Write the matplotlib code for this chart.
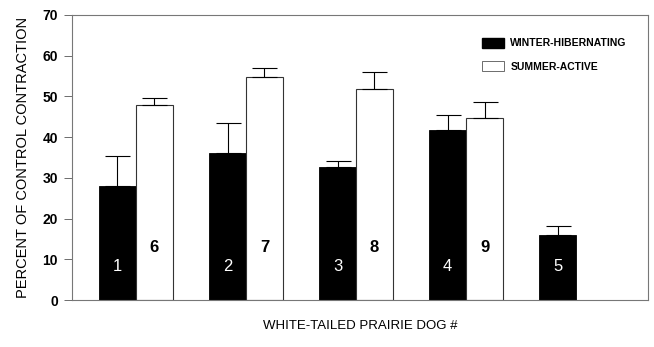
import matplotlib
matplotlib.use("Agg")
import matplotlib.pyplot as plt
from matplotlib.patches import Patch

plt.rcParams['font.family'] = ['Liberation Sans', 'DejaVu Sans']

# Animal groups along the x axis
groups = [1, 2, 3, 4, 5]
winter_ids = ["1", "2", "3", "4", "5"]
summer_ids = ["6", "7", "8", "9"]

# Percent of control contraction (mean) and upper error (SE)
winter_vals = [28.0, 36.0, 32.8, 41.7, 16.1]
winter_err = [7.5, 7.4, 1.4, 3.7, 2.2]
summer_vals = [47.9, 54.8, 51.7, 44.8]
summer_err = [1.6, 2.2, 4.4, 3.8]

yticks = [0, 10, 20, 30, 40, 50, 60, 70]

fig = plt.figure(figsize=(6.54, 3.47), dpi=100)
ax = fig.add_axes([0.110, 0.135, 0.881, 0.822])

width = 0.336
wx = [g - width / 2 for g in groups]
sx = [g + width / 2 for g in groups[:len(summer_vals)]]

ax.bar(wx, winter_vals, width=width, color='black', edgecolor='black', linewidth=0.6,
       yerr=[[0] * len(winter_err), winter_err], capsize=9,
       error_kw=dict(ecolor='black', elinewidth=0.8, capthick=0.8), zorder=2)
ax.bar(sx, summer_vals, width=width, color='white', edgecolor='#333333', linewidth=0.8,
       yerr=[[0] * len(summer_err), summer_err], capsize=9,
       error_kw=dict(ecolor='black', elinewidth=0.8, capthick=0.8), zorder=2)

# Animal numbers written inside the bars
for x, t in zip(wx, winter_ids):
    ax.text(x, 8.3, t, color='white', ha='center', va='center', fontsize=12, zorder=3)
for x, t in zip(sx, summer_ids):
    ax.text(x, 12.8, t, color='black', ha='center', va='center', fontsize=12,
            fontweight='bold', zorder=3)

ax.set_xlim(0.418, 5.655)
ax.set_ylim(0, 70)
ax.set_yticks(yticks)
ax.set_yticklabels([str(v) for v in yticks], fontsize=10, fontweight='bold')
ax.set_xticks([])
ax.tick_params(axis='y', direction='out', length=6, width=0.6, color='#555555', pad=4)
for s in ax.spines.values():
    s.set_color('#777777')
    s.set_linewidth(0.8)

ax.set_ylabel('PERCENT OF CONTROL CONTRACTION', fontsize=10.5, labelpad=9)
ax.set_xlabel('WHITE-TAILED PRAIRIE DOG #', fontsize=9.5, labelpad=14)

handles = [Patch(facecolor='black', edgecolor='black', label='WINTER-HIBERNATING'),
           Patch(facecolor='white', edgecolor='#555555', linewidth=0.6, label='SUMMER-ACTIVE')]
leg = ax.legend(handles=handles, loc='upper left', bbox_to_anchor=(0.705, 0.935),
                frameon=False, fontsize=7.5, handlelength=2.1, handleheight=1.15,
                handletextpad=0.6, labelspacing=1.2, borderaxespad=0)
for t in leg.get_texts():
    t.set_fontweight('bold')

fig.savefig('out.png', dpi=100)
